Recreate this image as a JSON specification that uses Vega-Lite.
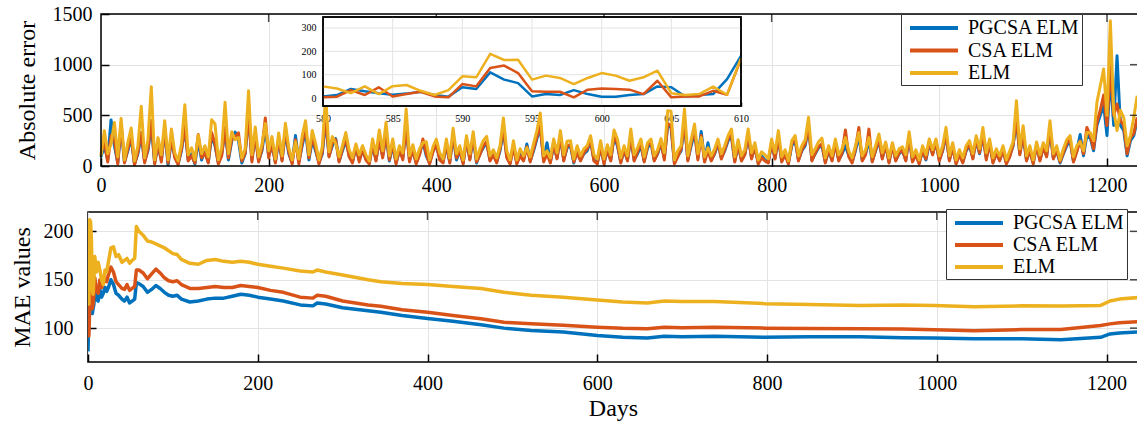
{
"$schema": "https://vega.github.io/schema/vega-lite/v6.json",
"background": "white",
"padding": {"left": 9, "top": 4, "right": 0, "bottom": 0},
"spacing": 12,
"columns": 1,
"datasets": {
"main": [
{"d":0,"p":90,"c":120,"e":100},{"d":4,"p":200,"c":240,"e":349},{"d":8,"p":60,"c":40,"e":120},{"d":12,"p":454,"c":300,"e":220},{"d":16,"p":200,"c":260,"e":430},{"d":20,"p":30,"c":20,"e":90},{"d":24,"p":380,"c":420,"e":470},{"d":28,"p":40,"c":30,"e":60},{"d":32,"p":150,"c":170,"e":230},{"d":36,"p":280,"c":300,"e":375},
{"d":40,"p":20,"c":10,"e":50},{"d":44,"p":120,"c":140,"e":200},{"d":48,"p":300,"c":330,"e":589},{"d":52,"p":50,"c":30,"e":80},{"d":56,"p":150,"c":170,"e":260},{"d":60,"p":400,"c":450,"e":783},{"d":64,"p":30,"c":20,"e":60},{"d":68,"p":200,"c":230,"e":280},{"d":72,"p":60,"c":40,"e":110},{"d":76,"p":350,"c":380,"e":447},
{"d":80,"p":10,"c":30,"e":60},{"d":84,"p":250,"c":280,"e":365},{"d":88,"p":100,"c":80,"e":130},{"d":92,"p":20,"c":15,"e":50},{"d":96,"p":150,"c":170,"e":220},{"d":100,"p":380,"c":400,"e":605},{"d":104,"p":60,"c":50,"e":110},{"d":108,"p":120,"c":100,"e":180},{"d":112,"p":20,"c":30,"e":60},{"d":116,"p":250,"c":310,"e":306},
{"d":120,"p":60,"c":80,"e":120},{"d":124,"p":150,"c":130,"e":200},{"d":128,"p":40,"c":30,"e":90},{"d":132,"p":300,"c":330,"e":457},{"d":136,"p":200,"c":220,"e":415},{"d":140,"p":30,"c":20,"e":60},{"d":144,"p":120,"c":100,"e":180},{"d":148,"p":350,"c":380,"e":628},{"d":152,"p":60,"c":80,"e":120},{"d":156,"p":250,"c":270,"e":338},
{"d":160,"p":335,"c":290,"e":260},{"d":164,"p":250,"c":326,"e":280},{"d":168,"p":30,"c":50,"e":80},{"d":172,"p":120,"c":130,"e":170},{"d":176,"p":500,"c":520,"e":743},{"d":180,"p":60,"c":40,"e":110},{"d":184,"p":300,"c":320,"e":385},{"d":188,"p":50,"c":40,"e":90},{"d":192,"p":150,"c":170,"e":210},{"d":196,"p":380,"c":474,"e":420},
{"d":200,"p":100,"c":80,"e":150},{"d":204,"p":200,"c":230,"e":290},{"d":208,"p":40,"c":30,"e":70},{"d":212,"p":250,"c":280,"e":326},{"d":216,"p":60,"c":50,"e":100},{"d":220,"p":330,"c":360,"e":421},{"d":224,"p":120,"c":140,"e":180},{"d":228,"p":30,"c":20,"e":60},{"d":232,"p":300,"c":260,"e":240},{"d":236,"p":40,"c":20,"e":70},
{"d":240,"p":200,"c":230,"e":300},{"d":244,"p":350,"c":380,"e":447},{"d":248,"p":60,"c":80,"e":110},{"d":252,"p":250,"c":280,"e":350},{"d":256,"p":150,"c":170,"e":220},{"d":260,"p":30,"c":20,"e":60},{"d":264,"p":120,"c":140,"e":190},{"d":268,"p":450,"c":500,"e":700},{"d":272,"p":100,"c":90,"e":140},{"d":276,"p":200,"c":230,"e":290},
{"d":280,"p":270,"c":260,"e":220},{"d":284,"p":50,"c":40,"e":90},{"d":288,"p":150,"c":170,"e":200},{"d":292,"p":250,"c":280,"e":330},{"d":296,"p":110,"c":90,"e":160},{"d":300,"p":40,"c":30,"e":80},{"d":304,"p":180,"c":200,"e":217},{"d":308,"p":60,"c":40,"e":110},{"d":312,"p":150,"c":170,"e":200},{"d":316,"p":70,"c":60,"e":110},
{"d":320,"p":30,"c":20,"e":50},{"d":324,"p":200,"c":220,"e":266},{"d":328,"p":60,"c":50,"e":120},{"d":332,"p":250,"c":270,"e":355},{"d":336,"p":100,"c":80,"e":150},{"d":340,"p":300,"c":320,"e":431},{"d":344,"p":50,"c":60,"e":100},{"d":348,"p":200,"c":230,"e":266},{"d":352,"p":30,"c":20,"e":70},{"d":356,"p":150,"c":170,"e":200},
{"d":360,"p":80,"c":60,"e":130},{"d":364,"p":380,"c":400,"e":562},{"d":368,"p":60,"c":40,"e":100},{"d":372,"p":150,"c":170,"e":210},{"d":376,"p":30,"c":20,"e":70},{"d":380,"p":120,"c":110,"e":170},{"d":384,"p":240,"c":266,"e":230},{"d":388,"p":100,"c":120,"e":240},{"d":392,"p":30,"c":20,"e":60},{"d":396,"p":150,"c":140,"e":190},
{"d":400,"p":200,"c":220,"e":266},{"d":404,"p":80,"c":60,"e":130},{"d":408,"p":40,"c":30,"e":70},{"d":412,"p":200,"c":230,"e":266},{"d":416,"p":40,"c":30,"e":80},{"d":420,"p":300,"c":320,"e":372},{"d":424,"p":60,"c":80,"e":120},{"d":428,"p":150,"c":160,"e":200},{"d":432,"p":30,"c":20,"e":60},{"d":436,"p":250,"c":270,"e":299},
{"d":440,"p":70,"c":60,"e":120},{"d":444,"p":280,"c":300,"e":338},{"d":448,"p":30,"c":40,"e":70},{"d":452,"p":120,"c":110,"e":170},{"d":456,"p":180,"c":200,"e":250},{"d":460,"p":230,"c":240,"e":292},{"d":464,"p":60,"c":50,"e":100},{"d":468,"p":120,"c":110,"e":160},{"d":472,"p":40,"c":30,"e":80},{"d":476,"p":150,"c":170,"e":200},
{"d":480,"p":350,"c":380,"e":474},{"d":484,"p":100,"c":80,"e":150},{"d":488,"p":30,"c":20,"e":60},{"d":492,"p":200,"c":190,"e":250},{"d":496,"p":30,"c":20,"e":60},{"d":500,"p":120,"c":100,"e":170},{"d":504,"p":60,"c":50,"e":100},{"d":508,"p":217,"c":190,"e":180},{"d":512,"p":50,"c":40,"e":90},{"d":516,"p":150,"c":170,"e":220},
{"d":520,"p":270,"c":290,"e":349},{"d":524,"p":380,"c":400,"e":523},{"d":528,"p":60,"c":40,"e":100},{"d":532,"p":230,"c":120,"e":150},{"d":536,"p":40,"c":30,"e":80},{"d":540,"p":200,"c":220,"e":266},{"d":544,"p":80,"c":70,"e":130},{"d":548,"p":280,"c":300,"e":349},{"d":552,"p":60,"c":50,"e":110},{"d":556,"p":180,"c":200,"e":245},
{"d":560,"p":200,"c":210,"e":250},{"d":564,"p":30,"c":40,"e":70},{"d":568,"p":150,"c":130,"e":200},{"d":572,"p":60,"c":50,"e":100},{"d":576,"p":120,"c":130,"e":170},{"d":580,"p":150,"c":170,"e":200},{"d":584,"p":250,"c":260,"e":299},{"d":588,"p":60,"c":50,"e":110},{"d":592,"p":30,"c":20,"e":70},{"d":596,"p":180,"c":200,"e":250},
{"d":600,"p":30,"c":20,"e":70},{"d":604,"p":150,"c":170,"e":210},{"d":608,"p":60,"c":50,"e":110},{"d":612,"p":280,"c":300,"e":355},{"d":616,"p":200,"c":220,"e":266},{"d":620,"p":40,"c":30,"e":80},{"d":624,"p":150,"c":170,"e":200},{"d":628,"p":60,"c":50,"e":100},{"d":632,"p":280,"c":300,"e":365},{"d":636,"p":60,"c":50,"e":110},
{"d":640,"p":120,"c":140,"e":180},{"d":644,"p":200,"c":230,"e":266},{"d":648,"p":50,"c":40,"e":90},{"d":652,"p":180,"c":200,"e":230},{"d":656,"p":230,"c":250,"e":266},{"d":660,"p":60,"c":50,"e":100},{"d":664,"p":120,"c":130,"e":160},{"d":668,"p":220,"c":240,"e":270},{"d":672,"p":80,"c":60,"e":130},{"d":676,"p":400,"c":420,"e":546},
{"d":680,"p":380,"c":400,"e":540},{"d":684,"p":30,"c":20,"e":60},{"d":688,"p":100,"c":90,"e":150},{"d":692,"p":150,"c":170,"e":200},{"d":696,"p":420,"c":440,"e":562},{"d":700,"p":60,"c":50,"e":100},{"d":704,"p":200,"c":230,"e":260},{"d":708,"p":330,"c":350,"e":414},{"d":712,"p":80,"c":60,"e":120},{"d":716,"p":340,"c":300,"e":280},
{"d":720,"p":50,"c":40,"e":90},{"d":724,"p":230,"c":150,"e":180},{"d":728,"p":60,"c":50,"e":100},{"d":732,"p":120,"c":130,"e":170},{"d":736,"p":220,"c":240,"e":266},{"d":740,"p":80,"c":70,"e":120},{"d":744,"p":150,"c":160,"e":200},{"d":748,"p":250,"c":270,"e":300},{"d":752,"p":290,"c":310,"e":365},{"d":756,"p":50,"c":40,"e":90},
{"d":760,"p":200,"c":220,"e":260},{"d":764,"p":60,"c":50,"e":100},{"d":768,"p":120,"c":110,"e":160},{"d":772,"p":290,"c":310,"e":365},{"d":776,"p":80,"c":70,"e":130},{"d":780,"p":180,"c":200,"e":230},{"d":784,"p":30,"c":20,"e":60},{"d":788,"p":100,"c":80,"e":140},{"d":792,"p":60,"c":50,"e":110},{"d":796,"p":40,"c":30,"e":70},
{"d":800,"p":220,"c":240,"e":266},{"d":804,"p":80,"c":70,"e":130},{"d":808,"p":270,"c":290,"e":349},{"d":812,"p":50,"c":40,"e":90},{"d":816,"p":120,"c":110,"e":160},{"d":820,"p":30,"c":20,"e":50},{"d":824,"p":200,"c":220,"e":250},{"d":828,"p":250,"c":270,"e":300},{"d":832,"p":60,"c":50,"e":100},{"d":836,"p":150,"c":160,"e":200},
{"d":840,"p":200,"c":220,"e":260},{"d":844,"p":380,"c":400,"e":481},{"d":848,"p":60,"c":50,"e":110},{"d":852,"p":120,"c":130,"e":170},{"d":856,"p":180,"c":190,"e":240},{"d":860,"p":200,"c":220,"e":275},{"d":864,"p":40,"c":30,"e":80},{"d":868,"p":150,"c":170,"e":200},{"d":872,"p":60,"c":50,"e":100},{"d":876,"p":220,"c":230,"e":266},
{"d":880,"p":60,"c":50,"e":110},{"d":884,"p":120,"c":130,"e":170},{"d":888,"p":200,"c":355,"e":280},{"d":892,"p":100,"c":90,"e":150},{"d":896,"p":40,"c":30,"e":80},{"d":900,"p":150,"c":170,"e":200},{"d":904,"p":300,"c":381,"e":330},{"d":908,"p":60,"c":50,"e":100},{"d":912,"p":120,"c":110,"e":160},{"d":916,"p":250,"c":364,"e":280},
{"d":920,"p":50,"c":40,"e":90},{"d":924,"p":150,"c":160,"e":200},{"d":928,"p":250,"c":270,"e":316},{"d":932,"p":80,"c":70,"e":130},{"d":936,"p":200,"c":220,"e":237},{"d":940,"p":40,"c":30,"e":80},{"d":944,"p":200,"c":210,"e":230},{"d":948,"p":60,"c":50,"e":100},{"d":952,"p":120,"c":130,"e":170},{"d":956,"p":150,"c":160,"e":190},
{"d":960,"p":60,"c":50,"e":110},{"d":964,"p":280,"c":300,"e":339},{"d":968,"p":50,"c":40,"e":90},{"d":972,"p":120,"c":110,"e":160},{"d":976,"p":30,"c":20,"e":60},{"d":980,"p":150,"c":160,"e":200},{"d":984,"p":60,"c":70,"e":110},{"d":988,"p":220,"c":240,"e":266},{"d":992,"p":120,"c":110,"e":160},{"d":996,"p":230,"c":250,"e":266},
{"d":1000,"p":60,"c":50,"e":100},{"d":1004,"p":150,"c":160,"e":200},{"d":1008,"p":300,"c":320,"e":381},{"d":1012,"p":60,"c":50,"e":100},{"d":1016,"p":180,"c":190,"e":230},{"d":1020,"p":30,"c":20,"e":60},{"d":1024,"p":120,"c":110,"e":160},{"d":1028,"p":40,"c":30,"e":80},{"d":1032,"p":150,"c":160,"e":200},{"d":1036,"p":200,"c":220,"e":250},
{"d":1040,"p":80,"c":70,"e":120},{"d":1044,"p":250,"c":270,"e":299},{"d":1048,"p":120,"c":130,"e":170},{"d":1052,"p":300,"c":320,"e":381},{"d":1056,"p":80,"c":60,"e":130},{"d":1060,"p":220,"c":230,"e":266},{"d":1064,"p":40,"c":30,"e":80},{"d":1068,"p":120,"c":130,"e":170},{"d":1072,"p":60,"c":50,"e":100},{"d":1076,"p":150,"c":160,"e":200},
{"d":1080,"p":30,"c":20,"e":60},{"d":1084,"p":100,"c":90,"e":150},{"d":1088,"p":200,"c":210,"e":237},{"d":1092,"p":450,"c":480,"e":645},{"d":1096,"p":120,"c":110,"e":170},{"d":1100,"p":300,"c":320,"e":398},{"d":1104,"p":60,"c":50,"e":100},{"d":1108,"p":150,"c":160,"e":200},{"d":1112,"p":30,"c":20,"e":60},{"d":1116,"p":200,"c":210,"e":237},
{"d":1120,"p":60,"c":50,"e":110},{"d":1124,"p":180,"c":190,"e":230},{"d":1128,"p":100,"c":90,"e":150},{"d":1132,"p":350,"c":380,"e":447},{"d":1136,"p":80,"c":70,"e":120},{"d":1140,"p":150,"c":160,"e":200},{"d":1144,"p":30,"c":40,"e":60},{"d":1148,"p":120,"c":130,"e":170},{"d":1152,"p":200,"c":220,"e":260},{"d":1156,"p":250,"c":270,"e":299},
{"d":1160,"p":50,"c":40,"e":90},{"d":1164,"p":150,"c":140,"e":200},{"d":1168,"p":310,"c":250,"e":240},{"d":1172,"p":100,"c":120,"e":150},{"d":1176,"p":300,"c":381,"e":330},{"d":1180,"p":280,"c":300,"e":330},{"d":1184,"p":150,"c":170,"e":250},{"d":1188,"p":400,"c":430,"e":628},{"d":1192,"p":500,"c":550,"e":792},{"d":1196,"p":600,"c":700,"e":957},
{"d":1200,"p":300,"c":400,"e":500},{"d":1204,"p":900,"c":1000,"e":1434},{"d":1208,"p":400,"c":500,"e":550},{"d":1212,"p":1088,"c":612,"e":350},{"d":1216,"p":400,"c":450,"e":550},{"d":1220,"p":350,"c":400,"e":480},{"d":1224,"p":100,"c":120,"e":200},{"d":1228,"p":250,"c":280,"e":300},{"d":1232,"p":300,"c":320,"e":480},{"d":1236,"p":450,"c":480,"e":694}
],
"inset": [
{"d":580,"p":7,"c":3,"e":50},{"d":581,"p":13,"c":6,"e":41},{"d":582,"p":39,"c":34,"e":21},{"d":583,"p":29,"c":13,"e":50},{"d":584,"p":21,"c":46,"e":17},{"d":585,"p":14,"c":7,"e":51},{"d":586,"p":19,"c":17,"e":56},{"d":587,"p":27,"c":27,"e":31},{"d":588,"p":13,"c":7,"e":13},{"d":589,"p":6,"c":3,"e":34},
{"d":590,"p":46,"c":60,"e":93},{"d":591,"p":39,"c":50,"e":89},{"d":592,"p":110,"c":129,"e":189},{"d":593,"p":79,"c":139,"e":163},{"d":594,"p":64,"c":107,"e":164},{"d":595,"p":7,"c":29,"e":79},{"d":596,"p":17,"c":27,"e":96},{"d":597,"p":13,"c":27,"e":86},{"d":598,"p":34,"c":3,"e":60},{"d":599,"p":17,"c":36,"e":86},
{"d":600,"p":6,"c":41,"e":107},{"d":601,"p":6,"c":39,"e":96},{"d":602,"p":13,"c":36,"e":74},{"d":603,"p":17,"c":17,"e":89},{"d":604,"p":50,"c":74,"e":117},{"d":605,"p":46,"c":3,"e":21},{"d":606,"p":7,"c":7,"e":13},{"d":607,"p":13,"c":7,"e":17},{"d":608,"p":17,"c":31,"e":49},{"d":609,"p":81,"c":14,"e":14},{"d":610,"p":181,"c":167,"e":171}
],
"mae": [
{"d":0,"p":76,"c":125,"e":125},{"d":1,"p":120,"c":92,"e":125},{"d":2,"p":118,"c":120,"e":212},{"d":3,"p":130,"c":138,"e":210},{"d":4,"p":122,"c":128,"e":192},{"d":5,"p":115,"c":120,"e":140},{"d":6,"p":120,"c":125,"e":135},{"d":7,"p":125,"c":135,"e":150},{"d":8,"p":145,"c":152,"e":174},{"d":9,"p":138,"c":145,"e":165},
{"d":10,"p":130,"c":140,"e":158},{"d":12,"p":128,"c":136,"e":168},{"d":14,"p":140,"c":150,"e":160},{"d":16,"p":132,"c":142,"e":150},{"d":18,"p":136,"c":146,"e":145},{"d":20,"p":142,"c":152,"e":160},{"d":22,"p":138,"c":148,"e":158},{"d":24,"p":142,"c":155,"e":168},{"d":27,"p":150,"c":163,"e":183},{"d":30,"p":145,"c":158,"e":184},
{"d":33,"p":136,"c":148,"e":174},{"d":36,"p":134,"c":145,"e":176},{"d":40,"p":130,"c":141,"e":168},{"d":43,"p":128,"c":140,"e":170},{"d":46,"p":132,"c":145,"e":172},{"d":49,"p":126,"c":139,"e":167},{"d":52,"p":128,"c":141,"e":170},{"d":55,"p":130,"c":143,"e":172},{"d":57,"p":147,"c":160,"e":205},{"d":60,"p":146,"c":160,"e":200},
{"d":65,"p":143,"c":157,"e":196},{"d":70,"p":137,"c":151,"e":190},{"d":75,"p":140,"c":156,"e":189},{"d":80,"p":144,"c":161,"e":187},{"d":85,"p":141,"c":157,"e":185},{"d":90,"p":137,"c":152,"e":183},{"d":95,"p":134,"c":149,"e":180},{"d":100,"p":133,"c":148,"e":177},{"d":105,"p":134,"c":149,"e":176},{"d":110,"p":130,"c":145,"e":171},
{"d":120,"p":127,"c":141,"e":167},{"d":130,"p":128,"c":141,"e":166},{"d":140,"p":130,"c":142,"e":170},{"d":150,"p":131,"c":143,"e":171},{"d":160,"p":131,"c":142,"e":169},{"d":170,"p":133,"c":142,"e":168},{"d":180,"p":135,"c":144,"e":169},{"d":190,"p":134,"c":143,"e":168},{"d":200,"p":132,"c":142,"e":166},{"d":215,"p":130,"c":139,"e":164},
{"d":230,"p":128,"c":137,"e":162},{"d":250,"p":124,"c":132,"e":159},{"d":265,"p":123,"c":131,"e":158},{"d":270,"p":126,"c":134,"e":160},{"d":280,"p":125,"c":133,"e":158},{"d":300,"p":121,"c":128,"e":155},{"d":330,"p":118,"c":124,"e":150},{"d":345,"p":116.5,"c":122.7,"e":148},{"d":370,"p":113,"c":119,"e":146},{"d":400,"p":110,"c":116.5,"e":145},
{"d":430,"p":107,"c":113,"e":143},{"d":463,"p":103.4,"c":109.6,"e":141},{"d":490,"p":100,"c":106,"e":137},{"d":522,"p":97.5,"c":104.4,"e":134},{"d":560,"p":96,"c":103,"e":132},{"d":600,"p":92.4,"c":101,"e":129},{"d":630,"p":90.5,"c":99.8,"e":127},{"d":659,"p":89.7,"c":99.4,"e":126},{"d":679,"p":91.5,"c":101,"e":128},{"d":700,"p":91,"c":100.5,"e":127.5},
{"d":738,"p":91.5,"c":101,"e":127.5},{"d":797,"p":90.5,"c":100,"e":125.3},{"d":850,"p":91,"c":99.5,"e":124.5},{"d":910,"p":91,"c":99.4,"e":123.5},{"d":960,"p":90,"c":99,"e":124},{"d":997,"p":89.7,"c":98.4,"e":123.5},{"d":1044,"p":89,"c":97.4,"e":122},{"d":1100,"p":89,"c":98.5,"e":123},{"d":1146,"p":88,"c":98.7,"e":122.8},{"d":1193,"p":90.5,"c":102.7,"e":123.5},
{"d":1204,"p":94,"c":104.4,"e":128},{"d":1215,"p":95,"c":105.5,"e":130},{"d":1237,"p":96,"c":106.7,"e":131.6}
]
},
"config": {
"font": "Liberation Serif",
"view": {"stroke": "black", "strokeWidth": 1.5},
"axis": {"domain": false, "grid": true, "gridColor": "#e3e3e3", "gridWidth": 1, "tickColor": "black", "tickSize": -8, "tickWidth": 1.5, "labelFont": "Liberation Serif", "labelFontSize": 20, "labelColor": "black", "labelFlush": false, "labelOverlap": false, "format": "d", "titleFont": "Liberation Serif", "titleFontSize": 24, "titleFontWeight": "normal", "titleColor": "black"},
"legend": {"labelFont": "Liberation Serif", "labelFontSize": 20, "labelColor": "black", "symbolType": "M-0.5,0L4.3,0", "symbolStrokeWidth": 4, "symbolSize": 400, "strokeColor": "#333333", "fillColor": "white", "padding": 2, "labelOffset": 41, "rowPadding": 0.5, "title": null}
},
"resolve": {"scale": {"color": "independent"}, "legend": {"color": "independent"}},
"concat": [
{
"width": 1050, "height": 152,
"view": {"stroke": null},
"layer": [
 {"layer": [
  {"data": {"name": "main"}, "transform": [{"fold": ["p","c","e"], "as": ["k","v"]}],
   "mark": {"type": "line", "strokeWidth": 3, "strokeJoin": "round", "clip": true},
   "encoding": {
    "x": {"field": "d", "type": "quantitative", "scale": {"domain": [0,1237], "range": [13,1050], "nice": false, "zero": false}, "axis": {"values": [0,200,400,600,800,1000,1200], "title": null, "labelPadding": 17}},
    "y": {"field": "v", "type": "quantitative", "scale": {"domain": [0,1500], "nice": false}, "axis": {"values": [0,500,1000,1500], "title": "Absolute error", "offset": -13, "labelPadding": 17, "titlePadding": 13}},
    "color": {"field": "k", "type": "nominal", "scale": {"domain": ["p","c","e"], "range": ["#0072BD","#D95319","#EDB120"]},
      "legend": {"orient": "none", "legendX": 813, "legendY": 0, "labelExpr": "datum.label=='p'?'PGCSA ELM    ':datum.label=='c'?'CSA ELM':'ELM'"}}
   }},
  {"data": {"values": [{"t": 200}, {"t": 400}, {"t": 600}, {"t": 800}, {"t": 1000}, {"t": 1200}]}, "mark": {"type": "tick", "orient": "vertical", "size": 16, "thickness": 1.5, "color": "black", "clip": true},
   "encoding": {"x": {"field": "t", "type": "quantitative"}, "y": {"datum": 1500}}},
  {"data": {"values": [{"t": 500}, {"t": 1000}]}, "mark": {"type": "tick", "orient": "horizontal", "size": 16, "thickness": 1.5, "color": "black", "clip": true},
   "encoding": {"y": {"field": "t", "type": "quantitative"}, "x": {"datum": 1237}}},
  {"data": {"values": [{"x1": 0, "x2": 1237, "y1": 0, "y2": 1500}]}, "mark": {"type": "rect", "fillOpacity": 0, "stroke": "black", "strokeWidth": 1.5},
   "encoding": {"x": {"field": "x1", "type": "quantitative"}, "x2": {"field": "x2"}, "y": {"field": "y1", "type": "quantitative"}, "y2": {"field": "y2"}}}
 ]},
 {"layer": [
  {"data": {"values": [{"x1": 580, "x2": 610, "y1": -34, "y2": 347}]}, "mark": {"type": "rect", "fill": "white", "stroke": "black", "strokeWidth": 1.5},
   "encoding": {
    "x": {"field": "x1", "type": "quantitative", "scale": {"domain": [580,610], "range": [235,653], "nice": false, "zero": false},
      "axis": {"orient": "bottom", "offset": -60, "values": [580,585,590,595,600,605,610], "grid": false, "title": null, "labelFontSize": 10, "tickSize": -4, "tickWidth": 1.5, "labelPadding": 11}},
    "x2": {"field": "x2"},
    "y": {"field": "y1", "type": "quantitative", "scale": {"domain": [-34,347], "range": [92,3], "nice": false, "zero": false},
      "axis": {"orient": "left", "offset": -235, "values": [0,100,200,300], "grid": false, "title": null, "labelFontSize": 10, "tickSize": -4, "tickWidth": 1.5, "labelPadding": 11}},
    "y2": {"field": "y2"}
   }},
  {"data": {"values": [{"g": 585}, {"g": 590}, {"g": 595}, {"g": 600}, {"g": 605}]}, "mark": {"type": "rule", "color": "#e3e3e3", "strokeWidth": 1},
   "encoding": {"x": {"field": "g", "type": "quantitative"}, "y": {"datum": -34}, "y2": {"datum": 347}}},
  {"data": {"values": [{"g": 0}, {"g": 100}, {"g": 200}, {"g": 300}]}, "mark": {"type": "rule", "color": "#e3e3e3", "strokeWidth": 1},
   "encoding": {"y": {"field": "g", "type": "quantitative"}, "x": {"datum": 580}, "x2": {"datum": 610}}},
  {"data": {"name": "inset"}, "transform": [{"fold": ["p","c","e"], "as": ["k","v"]}],
   "mark": {"type": "line", "strokeWidth": 2.5, "strokeJoin": "round"},
   "encoding": {
    "x": {"field": "d", "type": "quantitative"},
    "y": {"field": "v", "type": "quantitative"},
    "color": {"field": "k", "type": "nominal"}
   }},
  {"data": {"values": [{"x1": 580, "x2": 610, "y1": -34, "y2": 347}]}, "mark": {"type": "rect", "fillOpacity": 0, "stroke": "black", "strokeWidth": 1.5},
   "encoding": {"x": {"field": "x1", "type": "quantitative"}, "x2": {"field": "x2"}, "y": {"field": "y1", "type": "quantitative"}, "y2": {"field": "y2"}}}
 ]}
],
"resolve": {"scale": {"x": "independent", "y": "independent"}, "axis": {"x": "independent", "y": "independent"}}
},
{
"width": 1050, "height": 150,
"layer": [
  {"data": {"name": "mae"}, "transform": [{"fold": ["p","c","e"], "as": ["k","v"]}],
   "mark": {"type": "line", "strokeWidth": 3.5, "strokeJoin": "round", "clip": true},
   "encoding": {
    "x": {"field": "d", "type": "quantitative", "scale": {"domain": [0,1237], "nice": false, "zero": false}, "axis": {"values": [0,200,400,600,800,1000,1200], "title": "Days", "labelPadding": 19, "titlePadding": 3}},
    "y": {"field": "v", "type": "quantitative", "scale": {"domain": [65,220], "nice": false, "zero": false}, "axis": {"values": [100,150,200], "title": "MAE values", "labelPadding": 23, "titlePadding": 9}},
    "color": {"field": "k", "type": "nominal", "scale": {"domain": ["p","c","e"], "range": ["#0072BD","#D95319","#EDB120"]},
      "legend": {"orient": "none", "legendX": 858, "legendY": -3, "rowPadding": -1.2, "labelExpr": "datum.label=='p'?'PGCSA ELM    ':datum.label=='c'?'CSA ELM':'ELM'"}}
   }},
  {"data": {"values": [{"t": 200}, {"t": 400}, {"t": 600}, {"t": 800}, {"t": 1000}, {"t": 1200}]}, "mark": {"type": "tick", "orient": "vertical", "size": 16, "thickness": 1.5, "color": "black", "clip": true},
   "encoding": {"x": {"field": "t", "type": "quantitative"}, "y": {"datum": 220}}},
  {"data": {"values": [{"t": 100}, {"t": 150}, {"t": 200}]}, "mark": {"type": "tick", "orient": "horizontal", "size": 16, "thickness": 1.5, "color": "black", "clip": true},
   "encoding": {"y": {"field": "t", "type": "quantitative"}, "x": {"datum": 1237}}}
]
}
]
}
